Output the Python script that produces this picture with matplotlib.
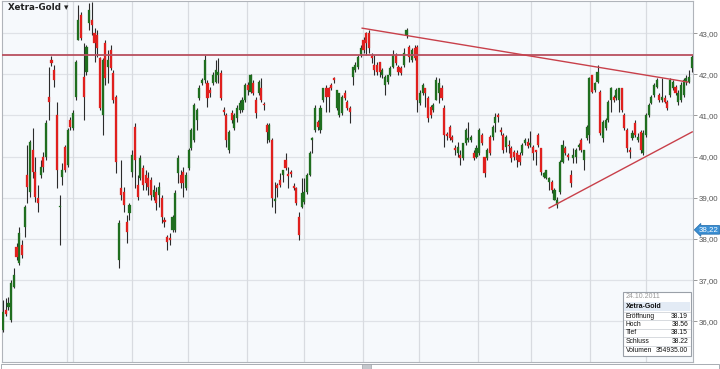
import numpy as np
import matplotlib
matplotlib.use("Agg")
import matplotlib.pyplot as plt
import matplotlib.transforms as mtransforms
from matplotlib.patches import Rectangle

# ---------------- data ----------------
opens = [
    35.79, 36.28, 36.35, 36.03, 36.83, 37.81, 37.42, 37.85, 38.29, 39.55,
    39.14, 40.16, 39.63, 38.99, 39.55, 39.99, 39.99, 41.45, 42.34, 42.10,
    41.01, 38.78, 39.50, 40.23, 39.80, 40.89, 40.69, 41.45, 42.83, 43.44,
    41.93, 42.05, 43.24, 43.31, 43.00, 42.95, 42.39, 41.01, 42.76, 42.17,
    42.59, 42.03, 41.45, 37.49, 39.24, 39.14, 38.41, 38.63, 39.63, 40.72,
    39.31, 39.48, 39.72, 39.55, 39.48, 39.43, 39.02, 39.14, 39.07, 38.99,
    38.46, 38.05, 38.02, 38.22, 38.22, 39.60, 39.55, 39.63, 39.24, 39.72,
    40.21, 40.40, 40.89, 41.42, 41.79, 41.86, 41.79, 41.62, 41.79, 41.81,
    41.98, 42.03, 41.13, 41.01, 40.16, 41.06, 40.69, 40.94, 41.13, 41.13,
    41.37, 41.74, 41.57, 41.79, 41.37, 41.54, 41.66, 41.28, 40.77, 40.40,
    40.40, 38.92, 39.31, 39.43, 39.55, 39.92, 39.58, 39.63, 39.29, 39.24,
    38.53, 38.78, 38.90, 39.14, 39.55, 40.40, 40.65, 40.84, 40.65, 41.37,
    41.66, 41.66, 41.74, 41.91, 41.18, 41.01, 41.06, 41.54, 41.32, 41.18,
    41.93, 42.10, 42.17, 42.47, 42.83, 43.00, 43.00, 42.44, 42.22, 42.22,
    42.30, 41.98, 41.74, 41.81, 41.98, 42.17, 42.47, 42.17, 42.15, 42.22,
    42.95, 42.66, 42.34, 42.63, 42.66, 41.30, 41.54, 41.66, 41.42, 41.20,
    41.13, 41.37, 41.54, 41.66, 41.18, 40.55, 40.72, 40.48, 40.21, 40.09,
    40.04, 39.97, 40.33, 40.40, 40.40, 40.09, 39.99, 40.09, 40.52, 39.99,
    39.97, 40.48, 40.48, 40.81, 41.01, 40.65, 40.52, 40.23, 40.28, 40.21,
    40.11, 40.09, 40.04, 40.09, 40.33, 40.35, 40.28, 40.23, 40.16, 40.52,
    40.21, 39.50, 39.48, 39.38, 39.38, 38.95, 38.82, 39.14, 39.87, 40.21,
    40.04, 39.55, 39.97, 39.99, 40.23, 40.40, 39.92, 40.45, 40.52, 41.98,
    41.62, 41.81, 41.57, 40.45, 40.69, 40.89, 41.37, 41.45, 41.42, 41.37,
    41.66, 41.01, 40.65, 40.16, 40.45, 40.81, 40.40, 40.60, 40.09, 40.52,
    41.01, 41.30, 41.49, 41.69, 41.49, 41.37, 41.42, 41.32, 41.49, 41.66,
    41.69, 41.32, 41.37, 41.49, 41.81, 41.81, 42.15,
]
closes = [
    36.23, 36.18, 36.45, 36.93, 37.13, 37.56, 38.15, 37.61, 38.78, 39.26,
    40.35, 39.63, 39.02, 38.87, 39.75, 39.75, 40.81, 41.32, 42.27, 41.86,
    39.67, 38.80, 39.67, 39.67, 40.65, 40.72, 41.06, 42.30, 43.31, 42.88,
    41.45, 42.66, 43.56, 43.19, 42.76, 42.63, 41.18, 42.34, 41.91, 42.34,
    42.15, 41.37, 39.87, 38.39, 39.07, 38.82, 38.17, 38.82, 40.04, 39.92,
    39.02, 39.97, 39.31, 39.36, 39.26, 39.07, 39.19, 38.87, 39.26, 38.53,
    38.41, 37.93, 37.98, 38.53, 39.12, 39.97, 39.36, 39.36, 39.55, 40.16,
    40.65, 41.25, 41.13, 41.66, 41.86, 42.34, 41.42, 41.54, 41.98, 42.10,
    42.05, 41.42, 41.08, 40.40, 40.60, 40.89, 41.01, 41.18, 41.30, 41.37,
    41.74, 41.62, 41.98, 41.54, 41.06, 41.81, 41.37, 41.25, 40.60, 40.77,
    38.99, 38.97, 39.24, 39.31, 39.67, 39.72, 39.53, 39.58, 39.24, 38.87,
    38.10, 39.12, 39.14, 39.55, 40.09, 40.45, 41.18, 40.72, 41.18, 41.66,
    41.45, 41.45, 41.66, 41.86, 41.62, 41.54, 41.45, 41.42, 41.18, 41.08,
    42.17, 42.22, 42.42, 42.63, 42.59, 42.76, 42.63, 42.39, 42.10, 42.05,
    42.05, 42.10, 41.93, 41.98, 42.15, 42.47, 42.27, 42.05, 42.03, 42.51,
    43.07, 42.42, 42.59, 42.39, 41.37, 41.54, 41.74, 41.54, 40.94, 41.01,
    41.25, 41.86, 41.79, 41.42, 40.52, 40.50, 40.45, 40.40, 40.16, 40.23,
    39.97, 40.33, 40.65, 40.45, 40.48, 39.97, 40.21, 40.65, 40.33, 39.60,
    40.16, 40.09, 40.72, 40.96, 40.96, 40.60, 40.16, 40.48, 40.26, 39.97,
    39.99, 39.92, 39.87, 40.28, 40.40, 40.26, 40.33, 40.09, 40.11, 40.28,
    39.63, 39.60, 39.67, 39.48, 39.19, 39.19, 38.95, 39.87, 40.28, 40.09,
    39.99, 39.36, 40.04, 40.16, 40.28, 40.16, 40.16, 40.72, 41.91, 41.57,
    41.79, 42.05, 40.57, 40.84, 40.89, 41.33, 41.66, 41.37, 41.62, 41.66,
    41.13, 40.69, 40.21, 40.11, 40.57, 40.52, 40.48, 40.16, 40.57, 41.01,
    41.25, 41.45, 41.74, 41.86, 41.37, 41.45, 41.32, 41.18, 41.86, 41.81,
    41.54, 41.54, 41.74, 41.86, 41.91, 41.93, 42.42,
]
highs = [
    36.52, 36.57, 36.59, 37.00, 37.30, 37.90, 38.29, 37.98, 38.82, 40.28,
    40.40, 40.69, 39.99, 39.31, 39.92, 40.11, 40.89, 42.17, 42.44, 42.22,
    41.32, 39.07, 39.84, 40.28, 40.69, 40.96, 41.13, 42.34, 43.68, 43.51,
    42.76, 42.71, 43.73, 43.75, 43.12, 43.07, 42.42, 42.39, 42.83, 42.59,
    42.71, 42.10, 41.49, 38.46, 39.92, 39.26, 38.58, 38.87, 40.16, 40.81,
    39.55, 40.04, 39.80, 39.67, 39.63, 39.50, 39.31, 39.26, 39.38, 39.07,
    38.53, 38.10, 38.15, 38.58, 39.19, 40.04, 39.67, 39.75, 39.63, 40.21,
    40.69, 41.30, 41.18, 41.74, 41.91, 42.47, 41.86, 41.69, 42.05, 42.34,
    42.39, 42.10, 41.20, 41.06, 40.65, 41.13, 41.06, 41.25, 41.37, 41.45,
    41.79, 41.81, 42.00, 41.86, 41.45, 41.86, 41.91, 41.32, 40.81, 40.81,
    40.45, 39.38, 39.36, 39.60, 39.67, 40.09, 39.75, 39.67, 39.36, 39.26,
    38.65, 39.48, 39.48, 39.60, 40.14, 40.47, 41.25, 40.89, 41.25, 41.66,
    41.74, 41.69, 41.79, 41.93, 41.62, 41.54, 41.49, 41.62, 41.37, 41.23,
    42.17, 42.30, 42.47, 42.71, 42.90, 43.02, 43.07, 42.51, 42.47, 42.30,
    42.30, 42.15, 41.98, 41.98, 42.20, 42.59, 42.51, 42.22, 42.20, 42.63,
    43.12, 42.71, 42.63, 42.71, 42.71, 41.62, 41.79, 41.66, 41.47, 41.25,
    41.30, 41.93, 41.91, 41.74, 41.25, 40.60, 40.77, 40.52, 40.28, 40.35,
    40.16, 40.33, 40.69, 40.84, 40.52, 40.16, 40.28, 40.69, 40.57, 39.99,
    40.21, 40.52, 40.77, 41.06, 41.06, 40.72, 40.57, 40.52, 40.40, 40.26,
    40.16, 40.16, 40.11, 40.33, 40.45, 40.45, 40.62, 40.28, 40.16, 40.57,
    40.21, 39.63, 39.67, 39.50, 39.43, 39.24, 39.02, 39.92, 40.40, 40.26,
    40.09, 39.67, 40.21, 40.21, 40.33, 40.45, 40.16, 40.77, 41.93, 41.98,
    41.81, 42.22, 41.62, 40.89, 40.94, 41.37, 41.69, 41.49, 41.66, 41.66,
    41.66, 41.06, 40.69, 40.23, 40.65, 40.89, 40.57, 40.65, 40.65, 41.06,
    41.30, 41.49, 41.79, 41.91, 41.54, 41.91, 41.49, 41.37, 41.91, 41.86,
    41.74, 41.62, 41.81, 41.91, 41.98, 42.10, 42.47,
]
lows = [
    35.74, 36.13, 36.28, 35.99, 36.81, 37.49, 37.37, 37.54, 38.05, 38.87,
    39.02, 39.48, 38.90, 38.65, 39.48, 39.63, 39.92, 40.89, 42.20, 41.69,
    39.24, 37.85, 39.31, 39.63, 39.75, 40.65, 40.65, 41.37, 42.83, 42.83,
    40.89, 41.98, 43.07, 42.95, 42.30, 42.42, 41.13, 40.52, 41.74, 41.79,
    42.10, 41.30, 39.60, 37.30, 38.95, 38.66, 37.90, 38.46, 39.50, 39.24,
    38.95, 39.43, 39.19, 39.19, 39.07, 38.95, 38.95, 38.70, 38.78, 38.39,
    38.29, 37.73, 37.85, 38.17, 38.17, 39.36, 39.24, 39.02, 39.19, 39.67,
    40.16, 40.35, 40.65, 41.37, 41.74, 41.79, 41.20, 41.45, 41.74, 41.79,
    41.79, 41.37, 41.01, 40.23, 40.09, 40.81, 40.65, 40.84, 41.06, 41.08,
    41.32, 41.49, 41.54, 41.49, 40.94, 41.49, 41.32, 41.13, 40.33, 40.35,
    38.78, 38.63, 39.02, 39.26, 39.38, 39.67, 39.24, 39.50, 39.19, 38.82,
    37.98, 38.75, 38.85, 39.09, 39.53, 40.09, 40.60, 40.65, 40.57, 41.32,
    41.08, 41.08, 41.62, 41.79, 41.13, 40.96, 41.01, 41.37, 41.13, 40.81,
    41.74, 42.05, 42.13, 42.42, 42.51, 42.47, 42.51, 42.27, 41.98, 41.98,
    41.93, 41.91, 41.49, 41.76, 41.96, 42.15, 42.22, 41.98, 41.98, 42.17,
    42.88, 42.30, 42.30, 42.34, 41.08, 41.25, 41.49, 41.20, 40.84, 40.94,
    41.08, 41.37, 41.30, 41.37, 40.23, 40.40, 40.40, 40.35, 40.04, 39.99,
    39.80, 39.92, 40.28, 40.35, 40.35, 39.92, 39.97, 40.04, 40.28, 39.50,
    39.92, 40.04, 40.40, 40.60, 40.84, 40.52, 40.09, 40.11, 40.09, 39.87,
    39.92, 39.75, 39.80, 40.04, 40.28, 40.21, 40.23, 39.92, 39.80, 40.23,
    39.55, 39.48, 39.46, 39.19, 39.12, 38.95, 38.75, 39.09, 39.84, 40.04,
    39.92, 39.26, 39.84, 39.84, 40.16, 40.11, 39.67, 40.40, 40.33, 41.54,
    41.57, 41.79, 40.52, 40.35, 40.65, 40.84, 41.08, 41.33, 41.37, 41.08,
    41.08, 40.65, 40.11, 39.97, 40.40, 40.48, 40.35, 40.09, 40.04, 40.48,
    40.96, 41.28, 41.45, 41.66, 41.32, 41.32, 41.30, 41.13, 41.45, 41.62,
    41.49, 41.25, 41.32, 41.45, 41.74, 41.79, 42.05,
]

# annotation lines (candle index, price)
resistance_level = 42.47
down_trend = ([133.5, 254.6], [43.12, 41.81])
up_trend = ([203.0, 256.2], [38.75, 40.60])
month_lines = [23.8, 26.0, 48.0, 68.8, 90.7, 111.9, 133.8, 154.6, 176.6, 196.3, 218.2, 239.0]
y_ticks = [36, 37, 38, 39, 40, 41, 42, 43]
last_price = 38.22

tooltip_date = "24.10.2011"
tooltip_name = "Xetra-Gold"
tooltip_rows = [("Eröffnung", "38.19"), ("Hoch", "38.56"), ("Tief", "38.15"),
                ("Schluss", "38.22"), ("Volumen", "354935.00")]

# ---------------- figure ----------------
W, H = 720, 369
fig = plt.figure(figsize=(W / 100, H / 100), dpi=100)
fig.patch.set_facecolor("white")
SMALL = ["Liberation Sans", "DejaVu Sans"]

def fx(px):
    return px / W

def fy(py):
    return 1 - py / H

ax = fig.add_axes([fx(2), fy(362), fx(693) - fx(2), fy(1) - fy(362)])
ax.set_facecolor("#f6f9fc")

n = len(opens)
x = np.arange(n)
o = np.array(opens); c = np.array(closes)
h = np.maximum(np.array(highs), np.maximum(o, c))
l = np.minimum(np.array(lows), np.minimum(o, c))

green = "#1f6e1f"
red = "#e0201e"
up = c >= o
ax.vlines(x, l, h, colors="#2b2b2b", linewidth=0.8, zorder=3)
bottoms = np.minimum(o, c)
heights = np.maximum(np.abs(c - o), 0.03)
ax.bar(x[up], heights[up], bottom=bottoms[up], width=0.78, color=green,
       edgecolor=green, linewidth=0.2, zorder=4)
ax.bar(x[~up], heights[~up], bottom=bottoms[~up], width=0.78, color=red,
       edgecolor=red, linewidth=0.2, zorder=4)

# grid
for yt in y_ticks:
    ax.axhline(yt, color="#dfe2e7", linewidth=0.9, zorder=1)
for mx in month_lines:
    ax.axvline(mx, color="#d8dbe0", linewidth=0.9, zorder=1)

# lines
ax.axhline(resistance_level, color="#b8505f", linewidth=1.3, zorder=5)
ax.plot(down_trend[0], down_trend[1], color="#c8404a", linewidth=1.0, zorder=5)
ax.plot(up_trend[0], up_trend[1], color="#c8404a", linewidth=1.0, zorder=5)

ax.set_xlim(-0.4, 256.5)
ax.set_ylim(35.01, 43.78)
ax.set_xticks([])
ax.yaxis.tick_right()
ax.set_yticks(y_ticks)
ax.set_yticklabels([f"{v:.2f}".replace(".", ",") for v in y_ticks],
                   fontsize=5.7, color="#555555", family=SMALL)
ax.tick_params(axis="y", direction="out", length=3, width=0.7, color="#999999", pad=1.2)
for side in ["left", "right", "top", "bottom"]:
    ax.spines[side].set_color("#b0b4ba")
    ax.spines[side].set_linewidth(0.8)

# last price marker
trans = mtransforms.blended_transform_factory(ax.transAxes, ax.transData)
ax.text(1.0085, last_price, f"{last_price:.2f}".replace(".", ","), transform=trans,
        ha="left", va="center", fontsize=5.7, color="white", zorder=10, family=SMALL,
        bbox=dict(boxstyle="larrow,pad=0.1", fc="#3a8fd4", ec="#2b73b0", lw=0.6),
        clip_on=False)

# title
fig.text(fx(8), fy(7), "Xetra-Gold ▾", fontsize=6.3, fontweight="bold",
         color="#222222", ha="left", va="center")

# tooltip
bx0, bx1, by0, by1 = 623, 691, 292, 356
fig.add_artist(Rectangle((fx(bx0), fy(by1)), fx(bx1) - fx(bx0), fy(by0) - fy(by1),
                         transform=fig.transFigure, fc="white", ec="#9aa0a8", lw=0.8, zorder=20))
fig.add_artist(Rectangle((fx(bx0 + 1), fy(311)), fx(bx1 - 1) - fx(bx0 + 1), fy(302) - fy(311),
                         transform=fig.transFigure, fc="#e3ebf5", ec="none", zorder=21))
fig.text(fx(bx0 + 3), fy(297), tooltip_date, fontsize=5.0, color="#999999",
         ha="left", va="center", zorder=22, family=SMALL)
fig.text(fx(bx0 + 3), fy(306.5), tooltip_name, fontsize=5.0, color="#111111",
         fontweight="bold", ha="left", va="center", zorder=22, family=SMALL)
row_y = [316, 324.5, 333, 341.5, 350]
for (lab, val), ry in zip(tooltip_rows, row_y):
    fig.text(fx(bx0 + 3), fy(ry), lab, fontsize=4.9, color="#111111",
             ha="left", va="center", zorder=22, family=SMALL)
    fig.text(fx(bx1 - 3), fy(ry), val, fontsize=4.9, color="#111111",
             ha="right", va="center", zorder=22, family=SMALL)
    fig.add_artist(plt.Line2D([fx(bx0 + 1), fx(bx1 - 1)], [fy(ry - 4.3), fy(ry - 4.3)],
                              transform=fig.transFigure, color="#c8ccd2", lw=0.5, zorder=21))

# scrollbar at bottom
fig.add_artist(Rectangle((fx(1), fy(369)), fx(719) - fx(1), fy(364) - fy(369),
                         transform=fig.transFigure, fc="white", ec="#a8acb2", lw=0.7, zorder=20))
fig.add_artist(Rectangle((fx(362), fy(369)), fx(371) - fx(362), fy(364) - fy(369),
                         transform=fig.transFigure, fc="#c4c7cc", ec="#a0a4aa", lw=0.5, zorder=21))

fig.savefig("out.png", dpi=100, facecolor="white")
